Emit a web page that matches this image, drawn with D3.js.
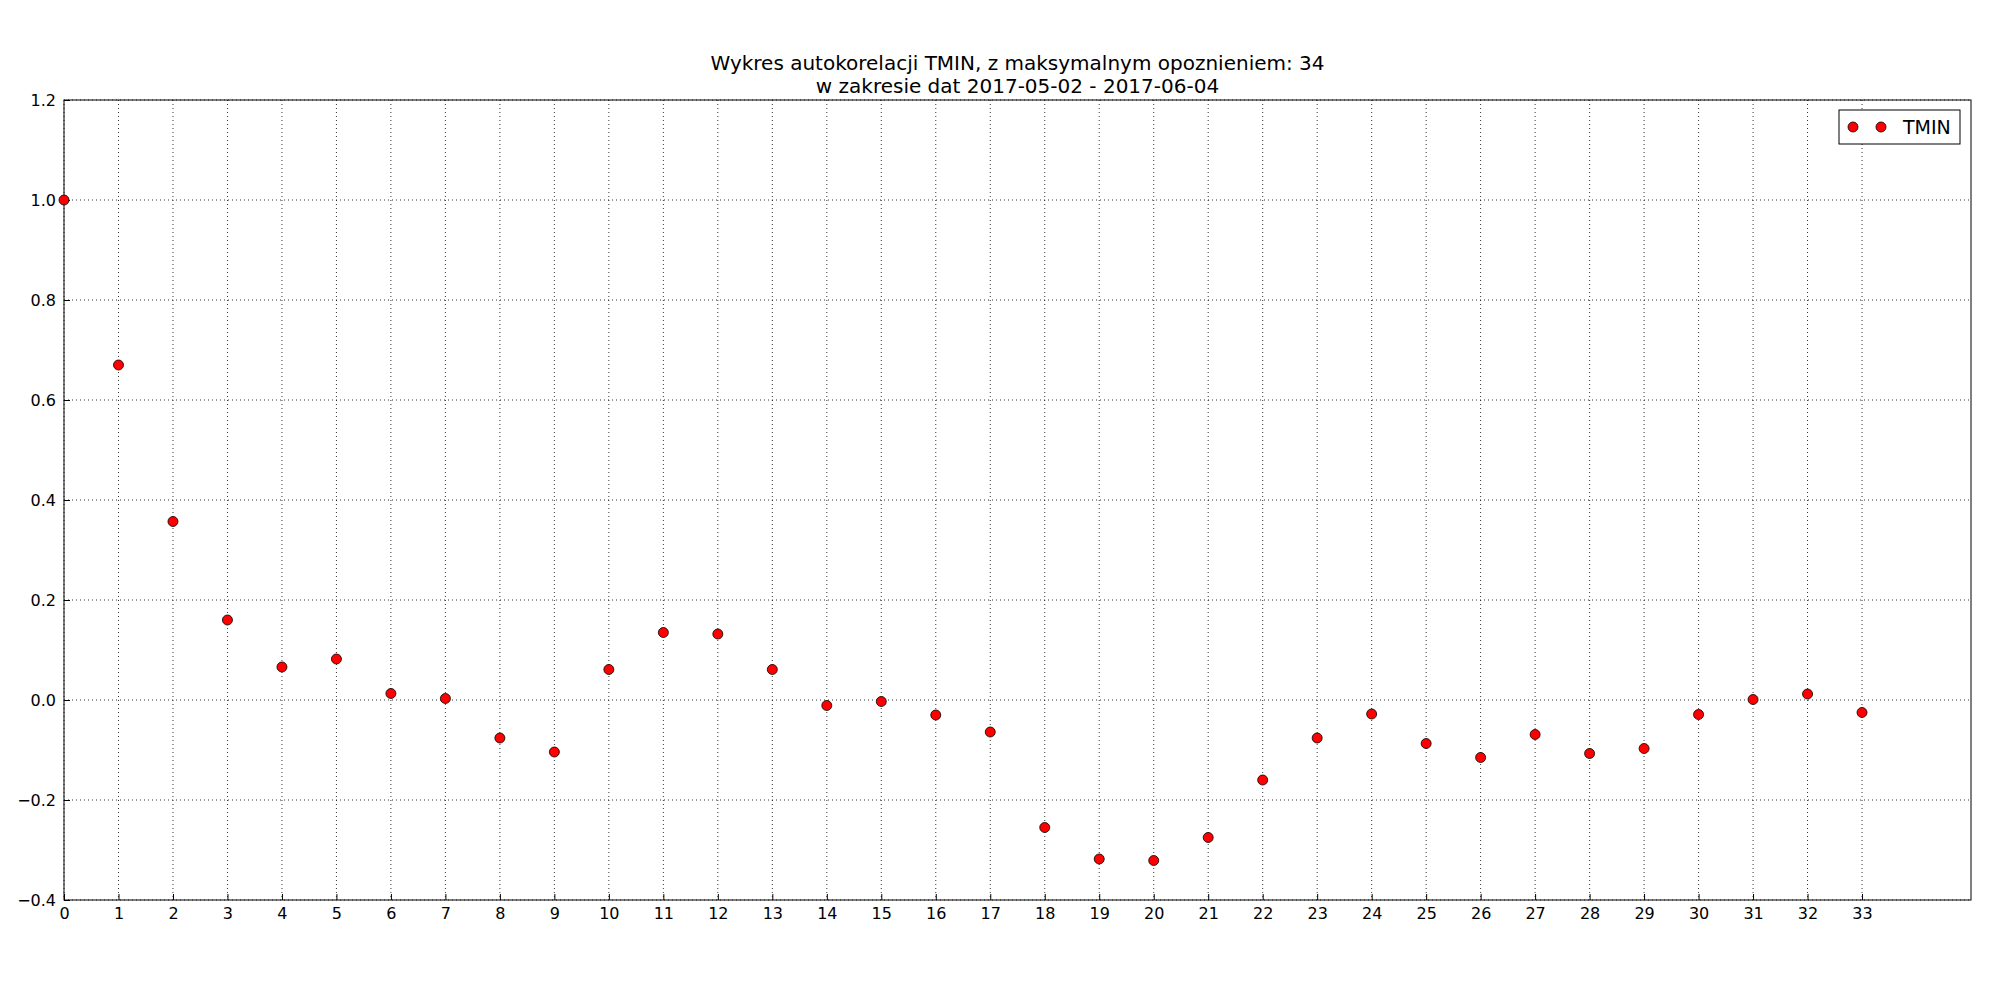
<!DOCTYPE html>
<html><head><meta charset="utf-8">
<script src="https://cdn.jsdelivr.net/npm/d3@7"></script>
<style>body{margin:0;background:#fff}svg{font-family:"DejaVu Sans",sans-serif}</style>
</head><body><svg id="c" width="2000" height="1000"></svg>
<script>
var lags = d3.range(0, 34);
var tmin = [1.0, 0.670, 0.357, 0.160, 0.066, 0.082, 0.013, 0.003, -0.076, -0.104,
  0.061, 0.135, 0.132, 0.061, -0.011, -0.003, -0.030, -0.064, -0.255, -0.318,
  -0.321, -0.275, -0.160, -0.076, -0.028, -0.087, -0.115, -0.069, -0.107, -0.097,
  -0.029, 0.001, 0.012, -0.025];
var yTicks = [-0.4, -0.2, 0.0, 0.2, 0.4, 0.6, 0.8, 1.0, 1.2];
var title = ["Wykres autokorelacji TMIN, z maksymalnym opoznieniem: 34",
             "w zakresie dat 2017-05-02 - 2017-06-04"];

var m = {l: 64, r: 29, t: 100, b: 100};
var svg = d3.select('#c');
var W = 2000 - m.l - m.r, H = 1000 - m.t - m.b;
var g = svg.append('g').attr('transform', 'translate(' + m.l + ',' + m.t + ')');
var x = d3.scaleLinear().domain([0, 35]).range([0, W]);
var y = d3.scaleLinear().domain([-0.4, 1.2]).range([H, 0]);

// grid
g.append('g').selectAll('line').data(lags).enter().append('line')
  .attr('x1', x).attr('x2', x).attr('y1', 0).attr('y2', H)
  .attr('stroke', '#000').attr('stroke-dasharray', '1,3').attr('stroke-width', 0.8);
g.append('g').selectAll('line').data(yTicks).enter().append('line')
  .attr('y1', y).attr('y2', y).attr('x1', 0).attr('x2', W)
  .attr('stroke', '#000').attr('stroke-dasharray', '1,3').attr('stroke-width', 0.8);

var xa = g.append('g').attr('transform', 'translate(0,' + H + ')')
  .call(d3.axisBottom(x).tickValues(lags).tickFormat(d3.format('d')).tickSizeInner(-6).tickSizeOuter(0).tickPadding(8));
var ya = g.append('g')
  .call(d3.axisLeft(y).tickValues(yTicks).tickFormat(d3.format('.1f')).tickSizeInner(-6).tickSizeOuter(0).tickPadding(8));
[xa, ya].forEach(function(a){
  a.selectAll('text').attr('font-size', 16).attr('font-family', 'DejaVu Sans').attr('fill', '#000');
  a.select('.domain').remove();
});
ya.selectAll('text').text(function(d){ return d < 0 ? '\u2212' + d3.format('.1f')(-d) : d3.format('.1f')(d); });

g.append('rect').attr('width', W).attr('height', H).attr('fill', 'none').attr('stroke', '#000');

g.append('g').selectAll('circle').data(tmin).enter().append('circle')
  .attr('cx', function(d, i){ return x(lags[i]); }).attr('cy', y).attr('r', 5)
  .attr('fill', '#ff0000').attr('stroke', '#000').attr('stroke-width', 0.8);

svg.selectAll('text.t').data(title).enter().append('text')
  .attr('x', m.l + W / 2).attr('y', function(d, i){ return 70 + i * 23; })
  .attr('text-anchor', 'middle').attr('font-size', 20).text(function(d){ return d; });

// legend
var lg = svg.append('g').attr('transform', 'translate(1839,110)');
lg.append('rect').attr('width', 121).attr('height', 34).attr('fill', '#fff').attr('stroke', '#000');
[14, 42].forEach(function(cx){
  lg.append('circle').attr('cx', cx).attr('cy', 17).attr('r', 5).attr('fill', '#ff0000').attr('stroke', '#000').attr('stroke-width', 0.8);
});
lg.append('text').attr('x', 64).attr('y', 24).attr('font-size', 19).text('TMIN');
</script></body></html>
